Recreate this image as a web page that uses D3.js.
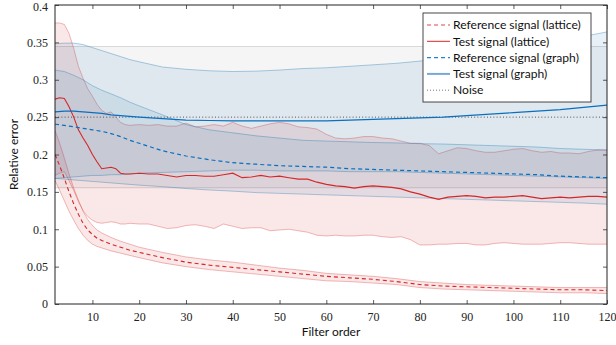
<!DOCTYPE html>
<html>
<head>
<meta charset="utf-8">
<script src="https://cdn.jsdelivr.net/npm/d3@7"></script>
<style>
body { margin: 0; background: #fff; }
.tick text { font-family: "Liberation Serif", serif; font-size: 12px; fill: #222; }
.lbl { font-family: "Lato", sans-serif; font-size: 12px; fill: #111; }
</style>
</head>
<body>
<div id="chart"></div>
<script>
var regionWidth = 616
var regionHeight = 345
var margin = {top: 5, right: 9, bottom: 41, left: 55}
var plotWidth = regionWidth - margin.left - margin.right
var plotHeight = regionHeight - margin.top - margin.bottom

var latticeOrders = [2,3,4,5,6,7,8,9,10,11,12,13,14,15,16,17,18,
    20,22,24,26,28,30,32,34,36,38,40,42,44,46,48,50,52,54,56,58,60,
    62,64,66,68,70,72,74,76,78,80,82,84,86,88,90,92,94,96,98,100,
    102,104,106,108,110,112,114,116,118,120]
var latticeTestMean = [0.274,0.276,0.275,0.264,0.250,0.233,0.222,0.212,0.200,0.190,0.181,0.182,0.183,0.181,0.175,0.174,0.174,
    0.175,0.174,0.174,0.172,0.170,0.172,0.172,0.171,0.171,0.173,0.175,
    0.169,0.170,0.172,0.170,0.171,0.169,0.167,0.167,0.163,0.160,
    0.158,0.157,0.155,0.157,0.158,0.157,0.156,0.154,0.150,0.147,
    0.143,0.140,0.143,0.144,0.145,0.144,0.142,0.143,0.143,0.144,
    0.145,0.143,0.141,0.142,0.143,0.142,0.143,0.144,0.144,0.143]
var latticeTestUpper = [0.376,0.376,0.374,0.362,0.342,0.318,0.302,0.288,0.278,0.267,0.259,0.255,0.257,0.250,0.243,0.240,0.239,
    0.240,0.239,0.240,0.238,0.238,0.242,0.237,0.238,0.240,0.238,0.243,
    0.238,0.235,0.238,0.241,0.243,0.241,0.237,0.236,0.234,0.227,
    0.222,0.221,0.222,0.224,0.224,0.222,0.221,0.218,0.215,0.215,
    0.212,0.201,0.205,0.209,0.208,0.205,0.203,0.203,0.205,0.207,
    0.208,0.205,0.203,0.204,0.202,0.202,0.201,0.204,0.206,0.206]
var latticeTestLower = [0.172,0.175,0.177,0.165,0.152,0.137,0.125,0.117,0.112,0.109,0.108,0.109,0.110,0.109,0.107,0.107,0.108,
    0.107,0.107,0.104,0.101,0.102,0.105,0.106,0.104,0.101,0.107,0.104,
    0.101,0.102,0.102,0.098,0.099,0.100,0.098,0.096,0.092,0.091,
    0.092,0.091,0.091,0.092,0.092,0.090,0.089,0.090,0.086,0.079,
    0.079,0.080,0.080,0.081,0.081,0.079,0.079,0.081,0.082,0.081,
    0.080,0.080,0.080,0.081,0.082,0.082,0.081,0.080,0.080,0.080]

// lattice reference signal
var refOrders = [2,3,4,5,6,7,8,9,10,11,12,14,16,18,20,25,30,35,40,45,50,55,60,65,70,75,80,85,90,95,100,105,110,115,120]
var latticeRefMean = [0.200,0.185,0.168,0.150,0.134,0.120,0.108,0.099,0.093,0.088,0.085,0.080,0.076,0.072,0.069,0.062,0.056,0.052,
    0.049,0.046,0.043,0.040,0.037,0.035,0.033,0.030,0.026,0.024,0.023,0.022,0.021,0.020,0.019,0.019,0.018]
var latticeRefUpper = [0.232,0.215,0.195,0.174,0.155,0.139,0.124,0.113,0.105,0.099,0.095,0.089,0.084,0.080,0.076,0.069,0.063,0.059,
    0.056,0.052,0.048,0.045,0.041,0.039,0.037,0.034,0.030,0.028,0.026,0.025,0.024,0.023,0.022,0.022,0.022]
var latticeRefLower = [0.165,0.152,0.138,0.124,0.112,0.101,0.092,0.085,0.080,0.077,0.075,0.071,0.068,0.065,0.062,0.055,0.050,0.046,
    0.043,0.040,0.037,0.034,0.031,0.030,0.028,0.026,0.022,0.020,0.019,0.018,0.017,0.016,0.015,0.015,0.014]

// graph signals
var graphOrders = [2,4,6,8,10,12,14,16,18,20,25,30,35,40,45,50,55,60,65,70,75,80,85,90,95,100,105,110,115,120]
var graphTestMean = [0.257,0.258,0.258,0.257,0.256,0.255,0.253,0.252,0.251,0.250,0.248,0.246,0.2455,0.245,0.245,
    0.245,0.245,0.245,0.246,0.247,0.248,0.249,0.250,0.252,0.254,0.256,0.258,0.260,0.263,0.266]
var graphTestUpper = [0.348,0.349,0.349,0.347,0.343,0.339,0.335,0.331,0.327,0.324,0.317,0.314,0.312,0.311,0.3115,
    0.313,0.315,0.316,0.318,0.320,0.322,0.325,0.328,0.332,0.336,0.341,0.346,0.352,0.358,0.364]
var graphTestLower = [0.168,0.169,0.170,0.171,0.172,0.172,0.173,0.173,0.174,0.175,0.176,0.177,0.178,0.179,0.179,
    0.178,0.178,0.178,0.177,0.177,0.177,0.176,0.175,0.174,0.173,0.172,0.171,0.170,0.169,0.168]
var graphRefMean = [0.2405,0.239,0.237,0.235,0.233,0.231,0.228,0.224,0.219,0.215,0.205,0.198,0.193,0.189,0.187,
    0.185,0.184,0.183,0.181,0.180,0.179,0.178,0.177,0.176,0.175,0.174,0.173,0.171,0.170,0.169]
var graphRefUpper = [0.313,0.311,0.306,0.300,0.292,0.286,0.281,0.276,0.270,0.265,0.253,0.240,0.233,0.229,0.225,
    0.222,0.219,0.218,0.217,0.216,0.2155,0.2145,0.214,0.213,0.212,0.211,0.210,0.208,0.207,0.206]
var graphRefLower = [0.168,0.167,0.166,0.165,0.164,0.163,0.162,0.161,0.160,0.159,0.157,0.1545,0.1525,0.151,0.149,
    0.148,0.147,0.146,0.145,0.144,0.143,0.142,0.141,0.140,0.139,0.138,0.137,0.136,0.135,0.1335]

// noise level and its band
var noiseOrders = [2, 120]
var noiseMean = [0.25, 0.25]
var noiseUpper = [0.3445, 0.3445]
var noiseLower = [0.1555, 0.1555]

var xTicks = [10,20,30,40,50,60,70,80,90,100,110,120]
var yTicks = [0,0.05,0.1,0.15,0.2,0.25,0.3,0.35,0.4]
var legendLabels = ['Reference signal (lattice)', 'Test signal (lattice)', 'Reference signal (graph)', 'Test signal (graph)', 'Noise']

var red = '#d62728'
var blue = '#0a6fbf'

var svg = d3.select('#chart').append('svg')
    .attr('width', regionWidth)
    .attr('height', regionHeight)

var g = svg.append('g').attr('transform', 'translate(' + margin.left + ',' + margin.top + ')')

var scaleX = d3.scaleLinear().domain([2, 120]).range([0, plotWidth])
var scaleY = d3.scaleLinear().domain([0, 0.4]).range([plotHeight, 0])

function rows(orders, mean, lo, hi) {
    return orders.map((o, i) => ({o: o, m: mean[i], lo: lo[i], hi: hi[i]}))
}

var noise = rows(noiseOrders, noiseMean, noiseLower, noiseUpper)
var latTest = rows(latticeOrders, latticeTestMean, latticeTestLower, latticeTestUpper)
var latRef = rows(refOrders, latticeRefMean, latticeRefLower, latticeRefUpper)
var grTest = rows(graphOrders, graphTestMean, graphTestLower, graphTestUpper)
var grRef = rows(graphOrders, graphRefMean, graphRefLower, graphRefUpper)

var area = d3.area().x(d => scaleX(d.o)).y0(d => scaleY(d.lo)).y1(d => scaleY(d.hi))
var lineMean = d3.line().x(d => scaleX(d.o)).y(d => scaleY(d.m))
var lineLo = d3.line().x(d => scaleX(d.o)).y(d => scaleY(d.lo))
var lineHi = d3.line().x(d => scaleX(d.o)).y(d => scaleY(d.hi))

g.append('defs').append('clipPath').attr('id', 'clip')
    .append('rect').attr('width', plotWidth).attr('height', plotHeight)
var plot = g.append('g').attr('clip-path', 'url(#clip)')

// bands: fill then thin borders
var bands = [
    {d: noise, fill: '#7f7f7f', op: 0.075, edge: 'rgba(0,0,0,0.15)'},
    {d: latTest, fill: red, op: 0.11, edge: 'rgba(214,39,40,0.36)'},
    {d: latRef, fill: red, op: 0.11, edge: 'rgba(214,39,40,0.36)'},
    {d: grTest, fill: '#1f77b4', op: 0.1, edge: 'rgba(31,119,180,0.4)'},
    {d: grRef, fill: '#1f77b4', op: 0.1, edge: 'rgba(31,119,180,0.4)'}
]
bands.forEach(b => {
    plot.append('path').datum(b.d).attr('d', area)
        .attr('fill', b.fill).attr('fill-opacity', b.op).attr('stroke', 'none')
    plot.append('path').datum(b.d).attr('d', lineLo)
        .attr('fill', 'none').attr('stroke', b.edge).attr('stroke-width', 0.9)
    plot.append('path').datum(b.d).attr('d', lineHi)
        .attr('fill', 'none').attr('stroke', b.edge).attr('stroke-width', 0.9)
})

// mean lines
var series = [
    {d: noise, color: '#444', dash: '1,2.2', w: 0.9},
    {d: latRef, color: red, dash: '4,3', w: 1.1},
    {d: latTest, color: red, dash: null, w: 1.1},
    {d: grRef, color: blue, dash: '4,3', w: 1.2},
    {d: grTest, color: blue, dash: null, w: 1.2}
]
series.forEach(s => {
    plot.append('path').datum(s.d).attr('d', lineMean)
        .attr('fill', 'none')
        .attr('stroke', s.color)
        .attr('stroke-width', s.w)
        .attr('stroke-dasharray', s.dash)
})

// axes with inward ticks on all four sides
g.append('g').attr('transform', 'translate(0,' + plotHeight + ')')
    .call(d3.axisBottom(scaleX).tickValues(xTicks).tickSize(-4).tickPadding(8))
g.append('g')
    .call(d3.axisLeft(scaleY).tickValues(yTicks).tickSize(-4).tickPadding(7).tickFormat(d => d3.format('')(+d.toFixed(2))))
g.append('g')
    .call(d3.axisTop(scaleX).tickValues(xTicks).tickSize(-4).tickFormat(''))
g.append('g').attr('transform', 'translate(' + plotWidth + ',0)')
    .call(d3.axisRight(scaleY).tickValues(yTicks).tickSize(-4).tickFormat(''))
g.selectAll('.domain').remove()
g.selectAll('.tick line').attr('stroke', '#333').attr('stroke-width', 0.8)
// keep the top label inside the page
g.selectAll('.tick text').filter(d => d === 0.4).attr('dy', '0.42em')

g.append('rect').attr('width', plotWidth).attr('height', plotHeight)
    .attr('fill', 'none').attr('stroke', '#222').attr('stroke-width', 1)

svg.append('text').attr('class', 'lbl')
    .attr('x', margin.left + plotWidth / 2).attr('y', 336)
    .attr('text-anchor', 'middle').text('Filter order')
svg.append('text').attr('class', 'lbl')
    .attr('transform', 'translate(18,' + (margin.top + plotHeight / 2) + ') rotate(-90)')
    .attr('text-anchor', 'middle').text('Relative error')

// legend
var legend = svg.append('g').attr('transform', 'translate(423,13)')
legend.append('rect').attr('width', 168).attr('height', 89)
    .attr('fill', '#fff').attr('stroke', '#333').attr('stroke-width', 0.9)
var legendStyle = [
    {color: '#e0474c', dash: '4,3', w: 1},
    {color: red, dash: null, w: 1},
    {color: '#1f86d6', dash: '4,3', w: 1.1},
    {color: '#74a9d8', dash: null, w: 2},
    {color: '#555', dash: '1,2', w: 0.8}
]
legendLabels.forEach((t, i) => {
    var yy = 12 + i * 16.3
    legend.append('line').attr('x1', 4).attr('x2', 27).attr('y1', yy).attr('y2', yy)
        .attr('stroke', legendStyle[i].color).attr('stroke-width', legendStyle[i].w)
        .attr('stroke-dasharray', legendStyle[i].dash)
    legend.append('text').attr('class', 'lbl').attr('x', 30).attr('y', yy + 4.2)
        .style('font-size', '12.1px').text(t)
})
</script>
</body>
</html>
